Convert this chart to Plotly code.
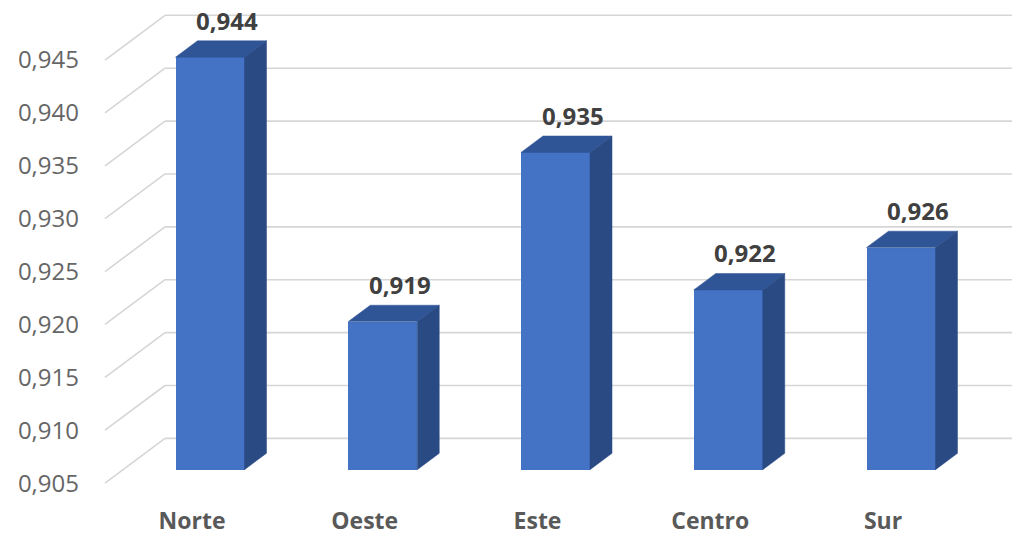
import plotly.graph_objects as go

# ---- data -------------------------------------------------------------
regions = ["Norte", "Oeste", "Este", "Centro", "Sur"]
values = [0.944, 0.919, 0.935, 0.922, 0.926]
value_labels = ["0,944", "0,919", "0,935", "0,922", "0,926"]
tick_values = [0.905, 0.910, 0.915, 0.920, 0.925, 0.930, 0.935, 0.940, 0.945]
tick_labels = ["0,905", "0,910", "0,915", "0,920", "0,925",
               "0,930", "0,935", "0,940", "0,945"]
axis_min = 0.905

# ---- oblique 3-D projection helpers ------------------------------------
W, H = 1012, 536
M_L, M_B = 88, 31
PX_PER_CAT = 172.75          # horizontal pixels per category step
PX_PER_VAL = 10640.0         # vertical pixels per value unit
CAT0_PX = 192.0              # pixel x of first category on the front plane
BASE_PX = 486.0              # pixel y of axis_min on the front plane


def ux(px):
    return px / PX_PER_CAT


def uy(px):
    return px / PX_PER_VAL


x_range = [ux(M_L - CAT0_PX), ux(W - CAT0_PX)]
y_range = [axis_min - uy((H - M_B) - BASE_PX), axis_min + uy(BASE_PX)]

# side wall depth and bar placement inside the depth
WALL_DX, WALL_DY = ux(60), uy(45)
WALL_X = ux(105 - CAT0_PX)
BAR_OX, BAR_OY = ux(18), uy(13.5)       # front face offset from front plane
BAR_W = ux(69)
BAR_DX, BAR_DY = ux(22), uy(16.5)       # bar depth

FRONT = "#4472C4"
TOP = "#2F5597"
SIDE = "#2A4A84"
GRID = "#D6D6D6"

fig = go.Figure()

# front faces
fig.add_trace(go.Bar(
    x=[i + BAR_OX for i in range(len(regions))],
    y=[v - axis_min for v in values],
    base=axis_min + BAR_OY,
    width=BAR_W,
    marker=dict(color=FRONT, line=dict(width=0)),
    hoverinfo="skip",
    showlegend=False,
))

# top and side faces
for i, v in enumerate(values):
    xl = i + BAR_OX - BAR_W / 2
    xr = i + BAR_OX + BAR_W / 2
    yb = axis_min + BAR_OY
    yt = v + BAR_OY
    fig.add_trace(go.Scatter(
        x=[xl, xr, xr + BAR_DX, xl + BAR_DX, xl],
        y=[yt, yt, yt + BAR_DY, yt + BAR_DY, yt],
        fill="toself", fillcolor=TOP, mode="lines",
        line=dict(width=0.5, color=TOP),
        hoverinfo="skip", showlegend=False,
    ))
    fig.add_trace(go.Scatter(
        x=[xr, xr, xr + BAR_DX, xr + BAR_DX, xr],
        y=[yb, yt, yt + BAR_DY, yb + BAR_DY, yb],
        fill="toself", fillcolor=SIDE, mode="lines",
        line=dict(width=0.5, color=SIDE),
        hoverinfo="skip", showlegend=False,
    ))
    fig.add_annotation(
        x=i + BAR_OX + BAR_DX / 2, y=v + BAR_OY + BAR_DY / 2,
        text=value_labels[i], showarrow=False,
        xshift=6, yshift=29,
        font=dict(family="Open Sans", size=24, color="#404040", weight="bold"),
    )

# gridlines: diagonal on the side wall, horizontal on the back wall
shapes = []
for t in tick_values:
    shapes.append(dict(type="line", xref="x", yref="y", layer="below",
                       x0=WALL_X, y0=t, x1=WALL_X + WALL_DX, y1=t + WALL_DY,
                       line=dict(color=GRID, width=1.6)))
    shapes.append(dict(type="line", xref="x", yref="y", layer="below",
                       x0=WALL_X + WALL_DX, y0=t + WALL_DY,
                       x1=x_range[1], y1=t + WALL_DY,
                       line=dict(color=GRID, width=1.6)))

fig.update_layout(
    width=W, height=H,
    margin=dict(l=M_L, r=0, t=0, b=M_B),
    paper_bgcolor="white", plot_bgcolor="white",
    shapes=shapes,
    bargap=0,
    xaxis=dict(
        range=x_range, showgrid=False, zeroline=False, showline=False,
        tickmode="array", tickvals=list(range(len(regions))), ticktext=regions,
        ticks="", ticklabelstandoff=3,
        tickfont=dict(family="Open Sans", size=23, color="#595959", weight="bold"),
    ),
    yaxis=dict(
        range=y_range, showgrid=False, zeroline=False, showline=False,
        tickmode="array", tickvals=tick_values, ticktext=tick_labels,
        ticks="", ticklabelstandoff=8,
        tickfont=dict(family="Open Sans", size=24, color="#666666"),
    ),
)

fig.write_html("out.html")
